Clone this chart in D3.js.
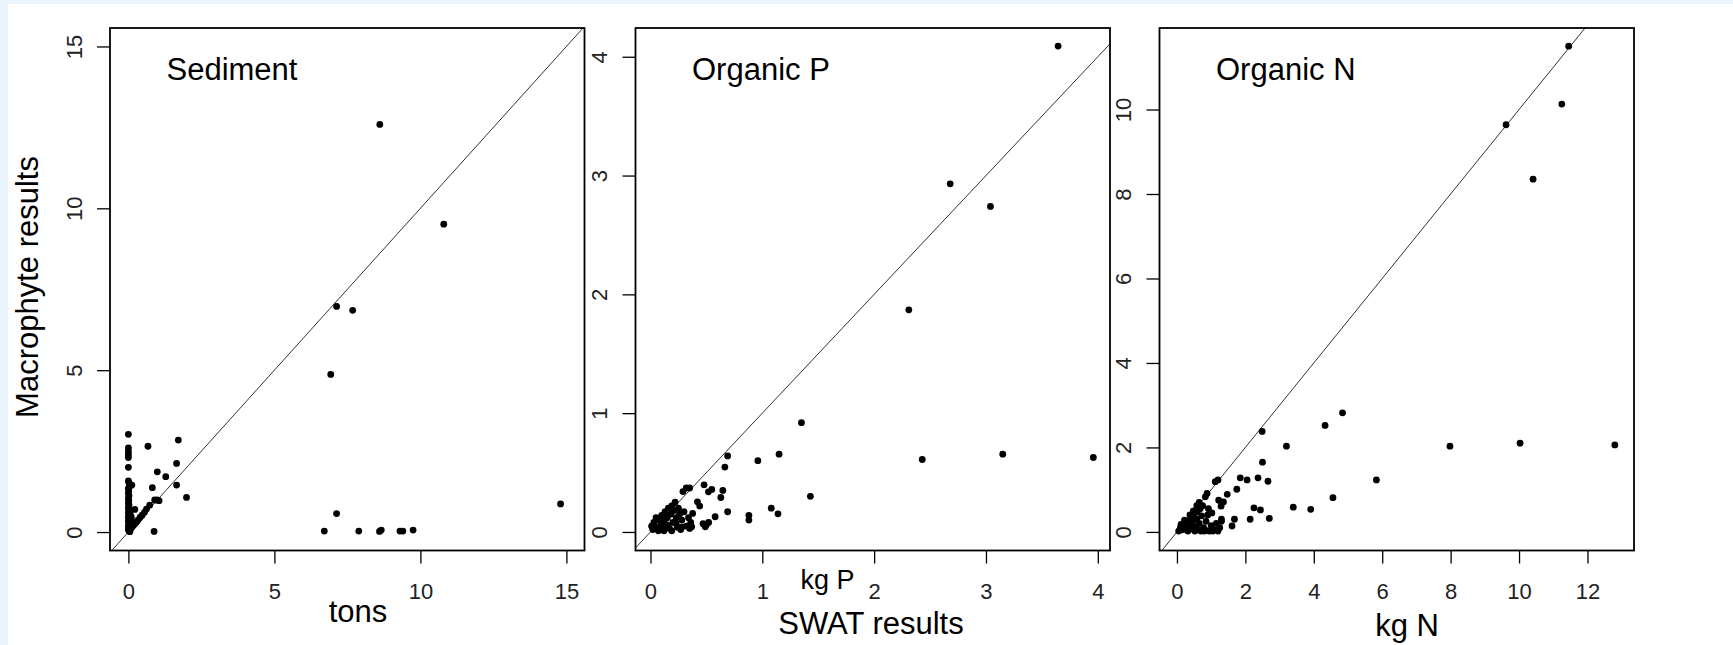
<!DOCTYPE html>
<html>
<head>
<meta charset="utf-8">
<script src="https://cdn.jsdelivr.net/npm/d3@7"></script>
<style>
  html, body { margin: 0; padding: 0; background: #e9f4fc; }
  svg { display: block; }
  .tick text { font-family: "Liberation Sans", Arial, sans-serif; font-size: 22px; fill: #222; }
  .lbl { font-family: "Liberation Sans", Arial, sans-serif; fill: #000; }
</style>
</head>
<body>
<svg id="chart" width="1733" height="645"></svg>
<script>
// SWAT vs macrophyte model results, one scatter per constituent

const panelTitles = ["Sediment", "Organic P", "Organic N"];

// axis limits as drawn (R adds 4% on each side)
const xLimits = [[-0.63, 15.62], [-0.134, 4.109], [-0.51, 13.36]];
const yLimits = [[-0.57, 15.57], [-0.156, 4.242], [-0.44, 11.93]];

const xTicks = [[0, 5, 10, 15], [0, 1, 2, 3, 4], [0, 2, 4, 6, 8, 10, 12]];
const yTicks = [[0, 5, 10, 15], [0, 1, 2, 3, 4], [0, 2, 4, 6, 8, 10]];

// [SWAT, macrophyte] pairs
const sedimentPoints = [
  [8.61, 12.59], [10.80, 9.51], [7.13, 6.97], [7.68, 6.85], [6.93, 4.87],
  [14.80, 0.87], [7.13, 0.57], [6.71, 0.03], [7.89, 0.03], [8.60, 0.02],
  [8.66, 0.06], [9.30, 0.03], [9.40, 0.03], [9.75, 0.06], [0.88, 0.02],
  [0.00, 3.02], [0.00, 2.60], [0.00, 2.48], [0.00, 2.39], [0.00, 2.30],
  [0.00, 2.00], [0.67, 2.65], [1.71, 2.84], [1.65, 2.12], [0.99, 1.86],
  [1.28, 1.71], [1.65, 1.45], [0.82, 1.37], [1.99, 1.07], [0.99, 0.99],
  [0.90, 0.99], [1.05, 0.97], [0.73, 0.83], [0.22, 0.70],
  [0.00, 1.58], [0.02, 1.52], [0.05, 1.42], [0.12, 1.45], [0.00, 1.35],
  [0.01, 1.28], [0.00, 1.20], [0.02, 1.12], [0.00, 1.05], [0.01, 0.98],
  [0.00, 0.90], [0.02, 0.84], [0.00, 0.76], [0.01, 0.68], [0.00, 0.60],
  [0.02, 0.54], [0.00, 0.47], [0.01, 0.40], [0.00, 0.33], [0.02, 0.27],
  [0.00, 0.20], [0.01, 0.14], [0.00, 0.08], [0.02, 0.03], [0.05, 0.01],
  [0.08, 0.10], [0.12, 0.15], [0.17, 0.20], [0.22, 0.26], [0.28, 0.31],
  [0.33, 0.37], [0.40, 0.45], [0.47, 0.52], [0.55, 0.61], [0.62, 0.71],
  [0.12, 0.30], [0.08, 0.22], [0.10, 0.45], [0.05, 0.35], [0.05, 0.60],
  [0.08, 0.50], [0.10, 0.20], [0.06, 0.12]
];

const organicPPoints = [
  [3.645, 4.09], [2.68, 2.93], [3.04, 2.74], [2.31, 1.87], [1.35, 0.92],
  [2.43, 0.61], [3.15, 0.655], [3.96, 0.627], [1.15, 0.655], [0.96, 0.60],
  [1.43, 0.30], [0.69, 0.64], [0.665, 0.546], [0.479, 0.397], [0.647, 0.35],
  [0.629, 0.29], [0.548, 0.358], [0.518, 0.338], [0.42, 0.254], [0.44, 0.218],
  [0.32, 0.37], [0.29, 0.34], [0.35, 0.37], [0.69, 0.17], [0.578, 0.128],
  [0.88, 0.14], [0.88, 0.10], [1.08, 0.20], [1.14, 0.153], [0.47, 0.07],
  [0.50, 0.06], [0.52, 0.08], [0.49, 0.044], [0.377, 0.156], [0.368, 0.044],
  [0.02, 0.02], [0.03, 0.08], [0.05, 0.12], [0.06, 0.03], [0.08, 0.10],
  [0.09, 0.05], [0.10, 0.14], [0.11, 0.02], [0.12, 0.09], [0.13, 0.17],
  [0.14, 0.05], [0.15, 0.12], [0.16, 0.20], [0.17, 0.03], [0.18, 0.15],
  [0.19, 0.22], [0.20, 0.08], [0.21, 0.18], [0.22, 0.25], [0.23, 0.12],
  [0.24, 0.04], [0.25, 0.20], [0.26, 0.15], [0.27, 0.02], [0.28, 0.10],
  [0.30, 0.17], [0.32, 0.05], [0.34, 0.12], [0.35, 0.03], [0.36, 0.08],
  [0.04, 0.05], [0.07, 0.01], [0.10, 0.08], [0.01, 0.05], [0.12, 0.01],
  [0.15, 0.06], [0.19, 0.01], [0.23, 0.07], [0.28, 0.04]
];

const organicNPoints = [
  [11.45, 11.50], [11.25, 10.13], [9.62, 9.64], [10.41, 8.35], [4.84, 2.82],
  [4.33, 2.52], [2.49, 2.38], [3.20, 2.03], [7.98, 2.03], [10.03, 2.10],
  [12.80, 2.06], [5.83, 1.23], [4.56, 0.81], [3.40, 0.585], [3.91, 0.535],
  [2.50, 1.65], [1.85, 1.28], [2.05, 1.23], [2.37, 1.28], [2.66, 1.20],
  [2.25, 0.57], [2.44, 0.52], [1.75, 1.01], [1.47, 0.89], [1.22, 0.75],
  [1.36, 0.71], [1.29, 0.61], [1.12, 1.19], [1.20, 1.23], [0.88, 0.91],
  [0.83, 0.83], [2.70, 0.32], [2.14, 0.30], [1.68, 0.30], [1.61, 0.14],
  [0.05, 0.02], [0.10, 0.10], [0.15, 0.05], [0.20, 0.18], [0.25, 0.10],
  [0.30, 0.25], [0.32, 0.02], [0.35, 0.15], [0.40, 0.32], [0.42, 0.08],
  [0.45, 0.22], [0.50, 0.40], [0.52, 0.02], [0.55, 0.12], [0.58, 0.30],
  [0.60, 0.48], [0.62, 0.05], [0.65, 0.20], [0.68, 0.55], [0.70, 0.02],
  [0.72, 0.38], [0.75, 0.62], [0.78, 0.10], [0.80, 0.02], [0.85, 0.25],
  [0.88, 0.03], [0.90, 0.40], [0.95, 0.02], [1.00, 0.15], [1.05, 0.02],
  [1.10, 0.05], [1.15, 0.20], [1.20, 0.02], [1.25, 0.10], [1.30, 0.25],
  [0.12, 0.18], [0.22, 0.28], [0.28, 0.05], [0.38, 0.40], [0.48, 0.50],
  [0.58, 0.62], [0.65, 0.70], [0.92, 0.55], [1.02, 0.45], [1.30, 0.30]
];

const panelPoints = [sedimentPoints, organicPPoints, organicNPoints];

// layout
const panelLeft = [110, 635.5, 1159.5];
const panelWidth = 474.5;
const plotTop = 28;
const plotBottom = 550.5;
const tickLen = 13;

const svg = d3.select("#chart");

svg.append("rect")
  .attr("x", 8).attr("y", 4)
  .attr("width", 1733).attr("height", 645)
  .attr("fill", "#fff");

panelTitles.forEach((title, i) => {
  const left = panelLeft[i];
  const right = left + panelWidth;

  const x = d3.scaleLinear().domain(xLimits[i]).range([left, right]);
  const y = d3.scaleLinear().domain(yLimits[i]).range([plotBottom, plotTop]);

  const g = svg.append("g");

  g.append("clipPath").attr("id", `clip${i}`)
    .append("rect")
    .attr("x", left).attr("y", plotTop)
    .attr("width", panelWidth).attr("height", plotBottom - plotTop);

  // 1:1 line
  const lo = Math.min(xLimits[i][0], yLimits[i][0]);
  const hi = Math.max(xLimits[i][1], yLimits[i][1]);
  g.append("line")
    .attr("clip-path", `url(#clip${i})`)
    .attr("x1", x(lo)).attr("y1", y(lo))
    .attr("x2", x(hi)).attr("y2", y(hi))
    .attr("stroke", "#333").attr("stroke-width", 1);

  g.append("g")
    .selectAll("circle")
    .data(panelPoints[i])
    .join("circle")
    .attr("cx", (d) => x(d[0]))
    .attr("cy", (d) => y(d[1]))
    .attr("r", 3.4)
    .attr("fill", "#000");

  g.append("rect")
    .attr("x", left).attr("y", plotTop)
    .attr("width", panelWidth).attr("height", plotBottom - plotTop)
    .attr("fill", "none").attr("stroke", "#000").attr("stroke-width", 1.8);

  g.append("g")
    .attr("transform", `translate(0,${plotBottom})`)
    .attr("color", "#000")
    .call(d3.axisBottom(x).tickValues(xTicks[i]).tickSize(tickLen).tickSizeOuter(0).tickFormat(d3.format("d")))
    .call((a) => a.select(".domain").remove())
    .call((a) => a.selectAll(".tick line").attr("stroke-width", 1.3))
    .call((a) => a.selectAll("text").attr("dy", null).attr("y", 48.5));

  g.append("g")
    .attr("transform", `translate(${left},0)`)
    .attr("color", "#000")
    .call(d3.axisLeft(y).tickValues(yTicks[i]).tickSize(tickLen).tickSizeOuter(0).tickFormat(d3.format("d")))
    .call((a) => a.select(".domain").remove())
    .call((a) => a.selectAll(".tick line").attr("stroke-width", 1.3))
    .call((a) => a.selectAll("text")
      .attr("x", null).attr("dy", null)
      .attr("text-anchor", "middle")
      .attr("transform", "translate(-28.5,0) rotate(-90)"));

  g.append("text")
    .attr("class", "lbl")
    .attr("x", left + 56.5).attr("y", 80)
    .attr("font-size", 31)
    .text(title);
});

// axis titles, placed where the original put them
svg.append("text").attr("class", "lbl")
  .attr("transform", "translate(38,287) rotate(-90)")
  .attr("text-anchor", "middle").attr("font-size", 31)
  .text("Macrophyte results");

svg.append("text").attr("class", "lbl")
  .attr("x", 358).attr("y", 622)
  .attr("text-anchor", "middle").attr("font-size", 31)
  .text("tons");

svg.append("text").attr("class", "lbl")
  .attr("x", 800.5).attr("y", 589)
  .attr("font-size", 27)
  .text("kg P");

svg.append("text").attr("class", "lbl")
  .attr("x", 871).attr("y", 634)
  .attr("text-anchor", "middle").attr("font-size", 31)
  .text("SWAT results");

svg.append("text").attr("class", "lbl")
  .attr("x", 1407).attr("y", 635.5)
  .attr("text-anchor", "middle").attr("font-size", 31)
  .text("kg N");
</script>
</body>
</html>
